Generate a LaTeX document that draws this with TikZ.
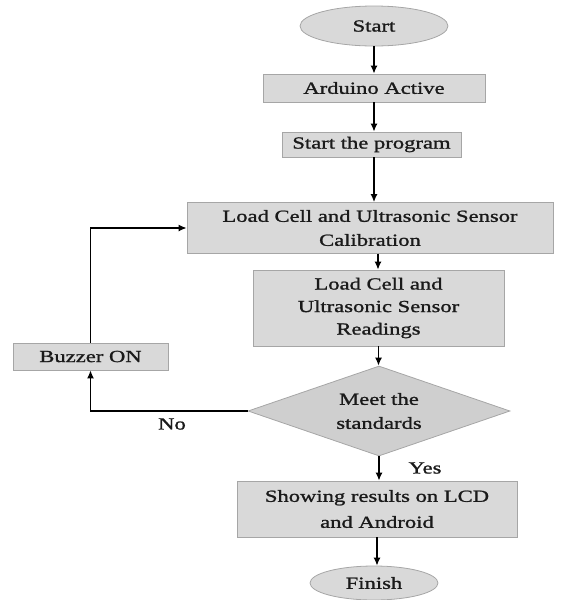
\documentclass[tikz,border=0pt]{standalone}
\usepackage{fontspec}
\setmainfont[FakeStretch=1.33,FakeBold=1.2]{Liberation Serif}
\usetikzlibrary{shapes.geometric,arrows.meta}
\definecolor{boxfill}{HTML}{D9D9D9}
\definecolor{boxline}{HTML}{A6A6A6}
\definecolor{diafill}{HTML}{CFCFCF}
\definecolor{txt}{HTML}{1A1A1A}
\begin{document}
\begin{tikzpicture}[x=1pt,y=-1pt,
  every node/.style={font=\fontsize{17}{24}\selectfont, text=txt},
  procbox/.style={rectangle, draw=boxline, fill=boxfill, line width=0.8pt, inner sep=2pt, align=center},
  termbox/.style={ellipse, draw=boxline, fill=boxfill, line width=0.8pt, inner sep=0pt},
  decbox/.style={diamond, aspect=2.9, draw=boxline, fill=diafill, line width=0.8pt, inner sep=0pt, align=center},
  arr/.style={-{Latex[length=8pt,width=7pt]}, line width=1.3pt, black},
  lbl/.style={inner sep=0pt}]
\useasboundingbox (0,0) rectangle (568,600);
\node[termbox, minimum width=148pt, minimum height=40pt] (start) at (374,26) {Start};
\node[procbox, minimum width=222pt, minimum height=28pt] (ard) at (374,88) {Arduino Active};
\node[procbox, minimum width=179pt, minimum height=25pt] (prog) at (371.5,144.5) {Start the program};
\node[procbox, minimum width=366pt, minimum height=51pt] (cal) at (370,228) {Load Cell and Ultrasonic Sensor\\Calibration};
\node[procbox, minimum width=251pt, minimum height=76pt, font=\fontsize{17}{22.5}\selectfont] (read) at (378.5,308) {Load Cell and\\Ultrasonic Sensor\\Readings};
\node[procbox, minimum width=155pt, minimum height=27pt] (buz) at (90.5,356.5) {Buzzer ON};
\node[decbox, minimum width=262pt, minimum height=90pt] (dec) at (379,411) {Meet the\\standards};
\node[procbox, minimum width=280pt, minimum height=56pt, font=\fontsize{17}{26}\selectfont] (show) at (377,509) {Showing results on LCD\\and Android};
\node[termbox, minimum width=128pt, minimum height=34pt] (fin) at (374,583) {Finish};
\node[lbl] (no) at (172,424) {No};
\node[lbl] (yes) at (425,468) {Yes};
\draw[arr] (start.south) -- (start.south |- ard.north);
\draw[arr] (ard.south) -- (ard.south |- prog.north);
\draw[arr] (374,157) coordinate (p1) -- (p1 |- cal.north);
\draw[arr] (378,253.5) coordinate (p2) -- (p2 |- read.north);
\draw[arr] (read.south) -- (read.south |- dec.north);
\draw[arr] (dec.south) coordinate (p3) -- (p3 |- show.north);
\draw[arr] (show.south) -- (show.south |- fin.north);
\draw[arr] (dec.west) -| (buz.south);
\draw[arr] (buz.north) |- (cal.west);
\end{tikzpicture}
\end{document}
